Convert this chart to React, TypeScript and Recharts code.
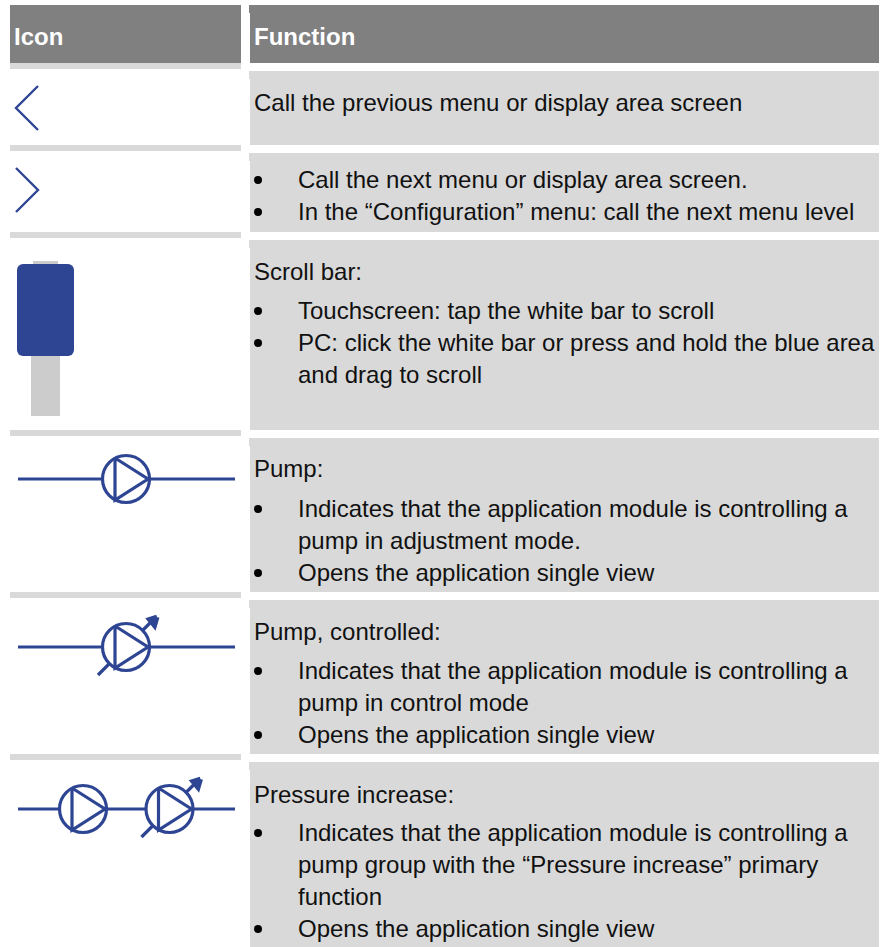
import { ComposedChart, XAxis, YAxis, Line, Scatter, ReferenceArea, ReferenceDot } from "recharts";

const BLUE = "#2e4593";
const BAND = "#d9d9d9";
const HEAD = "#808080";
const INK = "#111111";

const headers = ["Icon", "Function"];
const headerX = [14, 254];

// the table is laid out on axes that run over the whole page
const leftCol = [10, 241];
const rightCol = [250, 879];
const headerRow = [5, 63];
const functionRows = [
  [71, 145],
  [153, 232],
  [240, 430],
  [438, 592],
  [600, 754],
  [762, 947],
];
const iconRules = [
  [63, 69],
  [145, 151],
  [232, 238],
  [430, 436],
  [592, 598],
  [754, 760],
];

const titleLines = [
  "Call the previous menu or display area screen",
  "Scroll bar:",
  "Pump:",
  "Pump, controlled:",
  "Pressure increase:",
];
const titleY = [111, 280, 477, 640, 803];

const bodyLines = [
  "Call the next menu or display area screen.",
  "In the “Configuration” menu: call the next menu level",
  "Touchscreen: tap the white bar to scroll",
  "PC: click the white bar or press and hold the blue area",
  "and drag to scroll",
  "Indicates that the application module is controlling a",
  "pump in adjustment mode.",
  "Opens the application single view",
  "Indicates that the application module is controlling a",
  "pump in control mode",
  "Opens the application single view",
  "Indicates that the application module is controlling a",
  "pump group with the “Pressure increase” primary",
  "function",
  "Opens the application single view",
];
const bodyY = [188, 220, 319, 351, 383, 517, 549, 581, 679, 711, 743, 841, 873, 905, 937];
const bulletY = [180, 212, 311, 343, 509, 573, 671, 735, 833, 929];

const backChevron = [
  { x: 38, y: 86 },
  { x: 16, y: 108 },
  { x: 38, y: 130 },
];
const nextChevron = [
  { x: 16, y: 168 },
  { x: 38, y: 190 },
  { x: 16, y: 212 },
];

const pipes = [
  { y: 479, runs: [[18, 102], [150, 235]] },
  { y: 647, runs: [[18, 102], [150, 235]] },
  { y: 809, runs: [[18, 59], [107, 146], [193, 235]] },
];
const pumps = [
  { x: 126, y: 479, controlled: false },
  { x: 126, y: 647, controlled: true },
  { x: 83, y: 809, controlled: false },
  { x: 169.5, y: 809, controlled: true },
];

const at = (p: { x: number; y: number }, pts: number[][]) =>
  pts.map(([dx, dy]) => ({ x: p.x + dx, y: p.y + dy }));

const stroke = (data: { x: number; y: number }[], width = 3.2) => (
  <Line
    key={JSON.stringify(data)}
    data={data}
    dataKey="y"
    type="linear"
    stroke={BLUE}
    strokeWidth={width}
    dot={false}
    activeDot={false}
    legendType="none"
    isAnimationActive={false}
  />
);

const TextMark = (props: any) => (
  <text
    x={props.cx}
    y={props.cy}
    fontFamily="'Liberation Sans', Arial, sans-serif"
    fontSize={24}
    fontWeight={props.bold ? 700 : 400}
    fill={props.color}
  >
    {props.payload.text}
  </text>
);

const textSeries = (data: any[], color: string, bold = false) => (
  <Scatter
    data={data}
    dataKey="y"
    isAnimationActive={false}
    legendType="none"
    shape={(p: any) => <TextMark {...p} bold={bold} color={color} />}
  />
);

const band = (x: number[], y: number[], fill: string, radius = 0) => (
  <ReferenceArea
    key={`${x[0]}-${y[0]}`}
    x1={x[0]}
    x2={x[1]}
    y1={y[0]}
    y2={y[1]}
    fill={fill}
    fillOpacity={1}
    stroke="none"
    radius={radius}
  />
);

export default function App() {
  const headerData = headers.map((text, i) => ({ x: headerX[i], y: 45, text }));
  const titleData = titleLines.map((text, i) => ({ x: 254, y: titleY[i], text }));
  const bodyData = bodyLines.map((text, i) => ({ x: 298, y: bodyY[i], text }));

  return (
    <div style={{ position: "absolute", left: 0, top: 0 }}>
      <ComposedChart width={884} height={947} margin={{ top: 0, right: 0, bottom: 0, left: 0 }}>
        <XAxis type="number" dataKey="x" domain={[0, 884]} hide />
        <YAxis type="number" domain={[0, 947]} reversed hide />

        {band(leftCol, headerRow, HEAD)}
        {band(rightCol, headerRow, HEAD)}
        {band([249, 250], [5, 13], HEAD)}
        {iconRules.map((r) => band(leftCol, r, BAND))}
        {functionRows.map((r) => band(rightCol, r, BAND))}
        {functionRows.map((r) => band([249, 250], [r[0], r[0] + 8], BAND))}

        {/* scroll bar icon */}
        {band([33, 58], [261, 266], "#cccccc")}
        {band([31, 60], [350, 416], "#cccccc")}
        {band([17, 74], [264, 356], BLUE, 6)}

        {stroke(backChevron, 2.4)}
        {stroke(nextChevron, 2.4)}

        {pipes.flatMap((p) =>
          p.runs.map((r) => stroke([{ x: r[0], y: p.y }, { x: r[1], y: p.y }]))
        )}

        {pumps.map((p) => (
          <ReferenceDot key={`${p.x}-${p.y}`} x={p.x} y={p.y} r={23.5} fill="none" stroke={BLUE} strokeWidth={3.2} />
        ))}
        {pumps.map((p) => stroke(at(p, [[-11, -21], [-11, 21], [22, 0], [-11, -21]])))}
        {pumps.filter((p) => p.controlled).flatMap((p) => [
          stroke(at(p, [[-28, 28], [-17, 17]])),
          stroke(at(p, [[16, -16], [26, -26]])),
          stroke(at(p, [[31, -30], [23.5, -27.5], [28.5, -21.5], [31, -30]]), 5),
        ])}

        {bulletY.map((y) => (
          <ReferenceDot key={y} x={258} y={y} r={4} fill="#000000" stroke="none" />
        ))}

        {textSeries(headerData, "#ffffff", true)}
        {textSeries(titleData, INK)}
        {textSeries(bodyData, INK)}
      </ComposedChart>
    </div>
  );
}
